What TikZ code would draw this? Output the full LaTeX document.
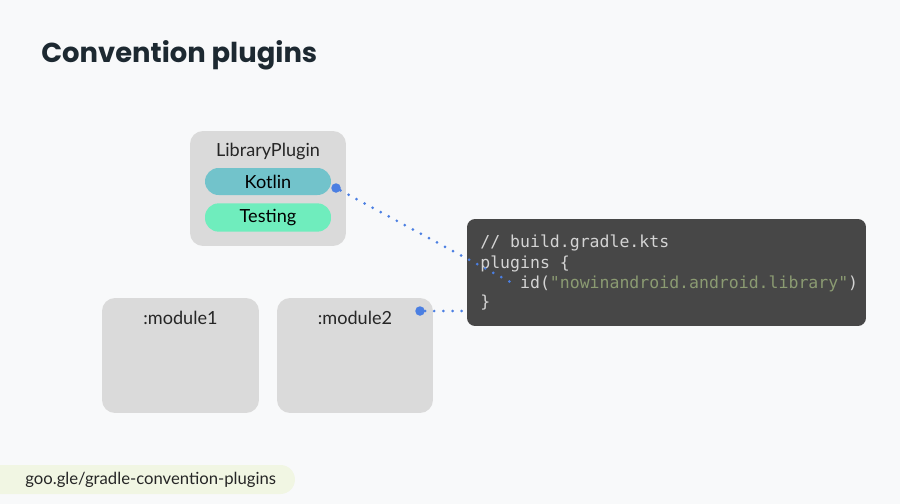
\documentclass[tikz,border=0pt]{standalone}
\usepackage{fontspec}
\setmainfont{Lato}
\newfontfamily\titlefont{Poppins}
\setmonofont{DejaVu Sans Mono}
\usetikzlibrary{positioning}

\definecolor{bgwhite}{HTML}{F8F9FA}
\definecolor{boxgray}{HTML}{DADADA}
\definecolor{kotlinteal}{HTML}{72C3CB}
\definecolor{testgreen}{HTML}{6FEDBD}
\definecolor{codebg}{HTML}{474747}
\definecolor{codefg}{HTML}{D4D4D4}
\definecolor{codestr}{HTML}{8B9B72}
\definecolor{linkblue}{HTML}{4B7FE2}
\definecolor{footbg}{HTML}{F1F6E3}
\definecolor{titleink}{HTML}{1D2931}

\tikzset{
    graybox/.style={draw=none, fill=boxgray, rounded corners=0.26cm,
        minimum width=3.12cm, minimum height=2.3cm},
    pill/.style={fill=#1, rounded corners=0.27cm, minimum width=2.52cm,
        minimum height=0.54cm, font=\fontsize{10.3}{12}\selectfont},
    boxlabel/.style={font=\fontsize{10.3}{12}\selectfont, text=black!85},
    codeline/.style={anchor=base west, inner sep=0pt, text=codefg,
        font=\ttfamily\fontsize{9.4}{11}\selectfont},
    bluedot/.style={circle, fill=linkblue, inner sep=0pt, minimum size=0.19cm},
    dotline/.style={linkblue, line width=1.7pt, line cap=round,
        dash pattern=on 0pt off 5.2pt}
}

\begin{document}
\begin{tikzpicture}[x=0.02cm, y=-0.02cm]
    \fill[bgwhite] (0,0) rectangle (900,504);
    \useasboundingbox (0,0) rectangle (900,504);

    % title
    \node[anchor=base west, inner sep=0pt, text=titleink,
        font=\titlefont\bfseries\fontsize{15.6}{18}\selectfont] (title) at (41,62) {Convention plugins};

    % library plugin
    \node[graybox] (lib) at (268,188.5) {};
    \node[boxlabel] (libname) at (268,151) {LibraryPlugin};
    \node[pill=kotlinteal] (kotlin) at (268,181.5) {Kotlin};
    \node[pill=testgreen] (testing) at (268,217.5) {Testing};

    % modules
    \node[graybox, minimum width=3.14cm] (mod1) at (180.5,355.5) {};
    \node[boxlabel] (mod1name) at (180.5,318) {:module1};
    \node[graybox] (mod2) at (355,355.5) {};
    \node[boxlabel] (mod2name) at (355,318) {:module2};

    % build script
    \node[fill=codebg, rounded corners=0.16cm, minimum width=7.98cm,
        minimum height=2.14cm] (code) at (666.5,272.5) {};
    \node[codeline] (codeA) at (480,247) {// build.gradle.kts};
    \node[codeline] (codeB) at (480,268) {plugins \{};
    \node[codeline] (codeC) at (480,288) {\ \ \ \ id(\textcolor{codestr}{"nowinandroid.android.library"})};
    \node[codeline] (codeD) at (480,307.5) {\}};
    \coordinate (idstart) at (514,284);
    \coordinate (codein) at (466,311);

    % links
    \node[bluedot] (kdot) at (336,188) {};
    \node[bluedot] (mdot) at (420,311) {};
    \draw[dotline] (kdot) -- (idstart);
    \draw[dotline] (mdot) -- (codein);

    % footer
    \node[fill=footbg, rounded corners=0.29cm, minimum width=6.2cm,
        minimum height=0.58cm] (foot) at (140,479.5) {};
    \node[anchor=base west, inner sep=0pt, text=black!85,
        font=\fontsize{9.5}{11}\selectfont] (link) at (25,484) {goo.gle/gradle-convention-plugins};
\end{tikzpicture}
\end{document}
